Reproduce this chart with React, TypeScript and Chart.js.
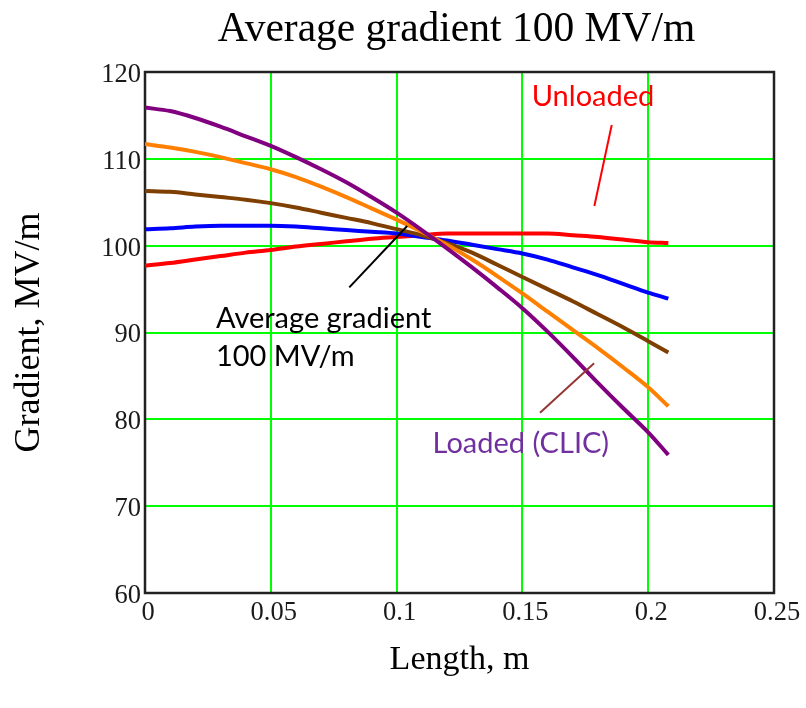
import React, { useEffect, useRef } from "react";
import { Chart, registerables } from "chart.js";

Chart.register(...registerables);

const lengthValues = [0, 0.01, 0.02, 0.03, 0.04, 0.05, 0.06, 0.07, 0.08, 0.09, 0.1, 0.11, 0.12, 0.13, 0.14, 0.15, 0.16, 0.17, 0.18, 0.19, 0.2, 0.208];

const purpleLoaded = [115.9, 115.5, 114.7, 113.7, 112.6, 111.5, 110.2, 108.8, 107.3, 105.6, 103.8, 101.8, 99.7, 97.5, 95.2, 92.8, 90.1, 87.2, 84.2, 81.3, 78.5, 75.9];
const orangeSeries = [111.7, 111.3, 110.8, 110.2, 109.5, 108.8, 107.9, 106.8, 105.6, 104.3, 103.0, 101.6, 100.1, 98.4, 96.5, 94.5, 92.4, 90.3, 88.2, 86.0, 83.7, 81.5];
const brownSeries = [106.3, 106.2, 105.9, 105.6, 105.3, 104.9, 104.4, 103.8, 103.2, 102.6, 101.9, 101.2, 100.3, 99.2, 97.8, 96.4, 95.0, 93.6, 92.1, 90.6, 89.0, 87.7];
const blueSeries = [101.9, 102.0, 102.2, 102.3, 102.3, 102.3, 102.2, 102.0, 101.8, 101.6, 101.4, 101.0, 100.6, 100.1, 99.6, 99.1, 98.4, 97.5, 96.6, 95.6, 94.6, 93.9];
const redUnloaded = [97.7, 98.0, 98.4, 98.8, 99.2, 99.5, 99.9, 100.2, 100.5, 100.8, 101.0, 101.2, 101.4, 101.4, 101.4, 101.4, 101.4, 101.2, 101.0, 100.7, 100.4, 100.3];

const xTickValues = [0, 0.05, 0.1, 0.15, 0.2, 0.25];
const xTickLabels = ["0", "0.05", "0.1", "0.15", "0.2", "0.25"];
const yTickValues = [60, 70, 80, 90, 100, 110, 120];
const yTickLabels = ["60", "70", "80", "90", "100", "110", "120"];

const titleText = "Average gradient 100 MV/m";
const xTitle = "Length, m";
const yTitle = "Gradient, MV/m";

// Annotation anchors in data coordinates
const textNotes = [
  { text: "Unloaded", x: 0.1537, y: 116.1, color: "#ff0000" },
  { text: "Average gradient", x: 0.0282, y: 90.48, color: "#000000" },
  { text: "100 MV/m", x: 0.0282, y: 86.14, color: "#000000" },
  { text: "Loaded (CLIC)", x: 0.1143, y: 76.09, color: "#7030a0" },
];
const pointerLines = [
  { x1: 0.1786, y1: 104.57, x2: 0.1855, y2: 113.9, color: "#ff0000", width: 2 },
  { x1: 0.0812, y1: 95.2, x2: 0.1042, y2: 102.26, color: "#000000", width: 2 },
  { x1: 0.157, y1: 80.76, x2: 0.1785, y2: 86.45, color: "#953735", width: 2 },
];

const mkPoints = (ys: number[]) => ys.map((y, i) => ({ x: lengthValues[i], y }));

const decorPlugin = {
  id: "decor",
  beforeDatasetsDraw(chart: any) {
    const { ctx, chartArea } = chart;
    ctx.save();
    ctx.strokeStyle = "#222222";
    ctx.lineWidth = 2.5;
    ctx.strokeRect(chartArea.left, chartArea.top, chartArea.right - chartArea.left, chartArea.bottom - chartArea.top);
    ctx.restore();
  },
  afterDraw(chart: any) {
    const { ctx, chartArea, scales } = chart;
    const xs = scales.x;
    const ys = scales.y;
    ctx.save();
    // title
    ctx.fillStyle = "#000000";
    ctx.font = "41.5px 'Liberation Serif', 'Times New Roman', serif";
    ctx.textAlign = "center";
    ctx.textBaseline = "alphabetic";
    ctx.fillText(titleText, (chartArea.left + chartArea.right) / 2 - 3, 41);
    // pointer lines
    pointerLines.forEach((l) => {
      ctx.beginPath();
      ctx.strokeStyle = l.color;
      ctx.lineWidth = l.width;
      ctx.moveTo(xs.getPixelForValue(l.x1), ys.getPixelForValue(l.y1));
      ctx.lineTo(xs.getPixelForValue(l.x2), ys.getPixelForValue(l.y2));
      ctx.stroke();
    });
    // notes
    ctx.font = "29px Lato, 'Open Sans', sans-serif";
    ctx.textAlign = "left";
    ctx.textBaseline = "alphabetic";
    textNotes.forEach((n) => {
      ctx.fillStyle = n.color;
      ctx.fillText(n.text, xs.getPixelForValue(n.x), ys.getPixelForValue(n.y));
    });
    ctx.restore();
  },
};

export default function App() {
  const canvasRef = useRef<HTMLCanvasElement | null>(null);

  useEffect(() => {
    const canvas = canvasRef.current;
    if (!canvas) return;
    const gridColor = (ctx: any) => {
      const v = ctx.tick ? ctx.tick.value : null;
      const sc = ctx.scale;
      if (v === sc.min || v === sc.max) return "rgba(0,0,0,0)";
      return "#00ff00";
    };
    const chart = new Chart(canvas, {
      type: "line",
      data: {
        datasets: [
          { label: "Loaded (CLIC)", data: mkPoints(purpleLoaded), borderColor: "#800080" },
          { label: "Orange", data: mkPoints(orangeSeries), borderColor: "#ff8000" },
          { label: "Brown", data: mkPoints(brownSeries), borderColor: "#7f3f00" },
          { label: "Blue", data: mkPoints(blueSeries), borderColor: "#0000ff" },
          { label: "Unloaded", data: mkPoints(redUnloaded), borderColor: "#ff0000" },
        ].map((d) => ({
          ...d,
          borderWidth: 4,
          pointRadius: 0,
          fill: false,
          cubicInterpolationMode: "monotone",
        })),
      },
      options: {
        responsive: false,
        animation: false,
        devicePixelRatio: 1,
        layout: { padding: { top: 72, right: 32, left: 0, bottom: 0 } },
        plugins: {
          legend: { display: false },
          title: { display: false },
          tooltip: { enabled: false },
        },
        scales: {
          x: {
            type: "linear",
            min: 0,
            max: 0.25,
            afterBuildTicks: (scale: any) => {
              scale.ticks = xTickValues.map((v) => ({ value: v }));
            },
            afterFit: (scale: any) => {
              scale.height = 115;
            },
            grid: { color: gridColor, lineWidth: 2, drawTicks: false },
            border: { display: false },
            ticks: {
              callback: (v: any) => {
                const i = xTickValues.findIndex((t) => Math.abs(t - Number(v)) < 1e-9);
                return i >= 0 ? xTickLabels[i] : "";
              },
              font: { family: "'Liberation Serif', 'Times New Roman', serif", size: 26.5 },
              color: "#1a1a1a",
              padding: 4,
              labelOffset: 3,
              maxRotation: 0,
              autoSkip: false,
            },
            title: {
              display: true,
              text: xTitle,
              font: { family: "'Liberation Serif', 'Times New Roman', serif", size: 34 },
              color: "#000000",
              padding: { top: 0, bottom: 28 },
            },
          },
          y: {
            type: "linear",
            min: 60,
            max: 120,
            afterBuildTicks: (scale: any) => {
              scale.ticks = yTickValues.map((v) => ({ value: v }));
            },
            afterFit: (scale: any) => {
              scale.width = 145;
            },
            grid: { color: gridColor, lineWidth: 2, drawTicks: false },
            border: { display: false },
            ticks: {
              callback: (v: any) => {
                const i = yTickValues.indexOf(Number(v));
                return i >= 0 ? yTickLabels[i] : "";
              },
              font: { family: "'Liberation Serif', 'Times New Roman', serif", size: 26.5 },
              color: "#1a1a1a",
              padding: 4,
              labelOffset: 3,
              autoSkip: false,
            },
            title: {
              display: true,
              text: yTitle,
              font: { family: "'Liberation Serif', 'Times New Roman', serif", size: 36 },
              color: "#000000",
              padding: { top: 8, bottom: 0 },
            },
          },
        },
      },
      plugins: [decorPlugin],
    } as any);
    return () => chart.destroy();
  }, []);

  return (
    <div style={{ position: "absolute", left: 0, top: 0, width: 806, height: 708, background: "#ffffff" }}>
      <canvas ref={canvasRef} width={806} height={708} style={{ display: "block" }} />
    </div>
  );
}
